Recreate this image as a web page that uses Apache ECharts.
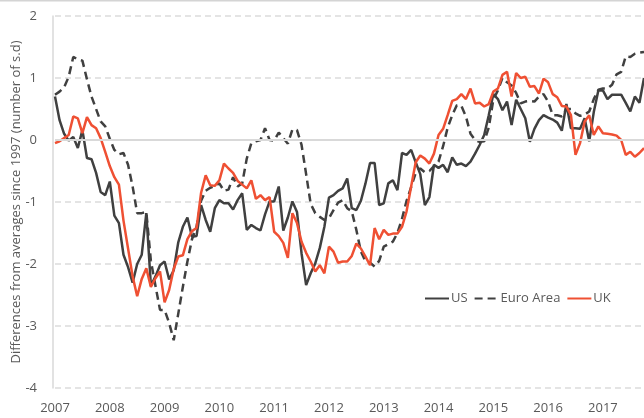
<!DOCTYPE html>
<html>
<head>
<meta charset="utf-8">
<script src="https://cdn.jsdelivr.net/npm/echarts@6/dist/echarts.min.js"></script>
<style>
html,body{margin:0;padding:0;background:#fff;}
#chart{width:644px;height:418px;}
</style>
</head>
<body>
<div id="chart"></div>
<script>
var years = ['2007','2008','2009','2010','2011','2012','2013','2014','2015','2016','2017'];
var monthCount = 130;
var yTicks = [-4, -3, -2, -1, 0, 1, 2];
var seriesNames = ['US', 'Euro Area', 'UK'];

var us = [0.70,0.32,0.10,-0.01,0.05,-0.13,0.16,-0.29,-0.31,-0.53,-0.84,-0.89,
-0.67,-1.22,-1.34,-1.85,-2.05,-2.30,-2.00,-1.85,-1.18,-2.35,-2.20,-2.02,
-1.96,-2.25,-2.10,-1.65,-1.40,-1.25,-1.56,-1.55,-1.05,-1.29,-1.48,-1.10,
-0.97,-1.02,-1.02,-1.12,-0.97,-0.86,-1.45,-1.37,-1.42,-1.46,-1.20,-0.99,
-0.99,-0.75,-1.46,-1.25,-0.99,-1.16,-1.83,-2.34,-2.15,-1.99,-1.74,-1.40,
-0.93,-0.89,-0.82,-0.78,-0.62,-1.10,-1.13,-0.98,-0.70,-0.37,-0.37,-1.05,
-1.02,-0.70,-0.65,-0.81,-0.21,-0.24,-0.16,-0.36,-0.55,-1.05,-0.92,-0.40,
-0.45,-0.40,-0.52,-0.28,-0.40,-0.38,-0.42,-0.35,-0.22,-0.08,0.08,0.40,
0.74,0.66,0.48,0.62,0.24,0.65,0.50,0.35,-0.03,0.18,0.32,0.40,
0.36,0.33,0.28,0.15,0.58,0.19,0.19,0.18,0.35,-0.02,0.45,0.80,
0.80,0.66,0.73,0.73,0.73,0.60,0.46,0.70,0.60,1.00];

var euro = [0.73,0.78,0.85,1.02,1.34,1.30,1.28,0.98,0.70,0.50,0.30,0.22,
0.02,-0.16,-0.23,-0.21,-0.40,-0.75,-1.18,-1.18,-1.16,-1.95,-2.35,-2.74,
-2.74,-2.95,-3.23,-2.80,-2.37,-1.96,-1.60,-1.40,-0.98,-0.82,-0.77,-0.74,
-0.70,-0.82,-0.80,-0.60,-0.75,-0.70,-0.30,-0.05,-0.02,0.00,0.19,0.00,
-0.01,0.12,0.03,-0.06,0.17,0.16,-0.08,-0.55,-1.03,-1.18,-1.24,-1.29,
-1.26,-1.13,-1.01,-0.97,-1.10,-1.15,-1.45,-1.80,-1.96,-1.98,-2.04,-1.95,
-1.72,-1.68,-1.64,-1.50,-1.27,-0.98,-0.76,-0.53,-0.46,-0.52,-0.50,-0.42,
-0.35,-0.10,0.20,0.40,0.56,0.55,0.38,0.10,0.00,-0.03,-0.02,0.20,
0.65,0.80,1.00,0.93,0.88,0.76,0.59,0.62,0.63,0.62,0.70,0.74,
0.62,0.40,0.40,0.38,0.50,0.50,0.43,0.39,0.41,0.46,0.66,0.81,
0.83,0.83,0.89,1.06,1.10,1.35,1.34,1.39,1.41,1.42];

var uk = [-0.05,-0.02,0.03,0.08,0.38,0.35,0.11,0.37,0.24,0.19,0.03,-0.19,
-0.42,-0.60,-0.72,-1.30,-1.75,-2.20,-2.52,-2.24,-2.07,-2.37,-2.23,-2.12,
-2.62,-2.42,-2.08,-1.88,-1.86,-1.60,-1.47,-1.42,-0.85,-0.57,-0.73,-0.74,
-0.65,-0.38,-0.46,-0.53,-0.66,-0.72,-0.78,-0.65,-0.95,-0.89,-0.97,-0.92,
-1.48,-1.55,-1.66,-1.90,-1.18,-1.34,-1.64,-1.82,-1.96,-2.12,-2.02,-2.15,
-1.72,-1.80,-1.98,-1.96,-1.96,-1.87,-1.67,-1.75,-1.88,-2.02,-1.42,-1.60,
-1.45,-1.53,-1.51,-1.51,-1.40,-1.15,-0.75,-0.36,-0.25,-0.30,-0.38,-0.22,
0.08,0.18,0.40,0.63,0.66,0.74,0.66,0.83,0.59,0.60,0.54,0.58,
0.78,0.83,1.05,1.10,0.70,1.08,1.00,1.02,0.86,0.87,0.75,0.99,
0.93,0.74,0.69,0.55,0.54,0.40,-0.24,-0.05,0.30,0.40,0.08,0.22,
0.11,0.10,0.09,0.07,0.00,-0.24,-0.19,-0.27,-0.21,-0.13];

var months = [];
for (var i = 0; i < monthCount; i++) {
  var y = years[Math.floor(i / 12)] || String(2007 + Math.floor(i / 12));
  var m = (i % 12) + 1;
  months.push(y + '-' + (m < 10 ? '0' + m : m));
}

var dark = '#404040';
var red = '#ef5033';
var textColor = '#595959';
var fontFamily = '"Open Sans", "Noto Sans", sans-serif';

var chart = echarts.init(document.getElementById('chart'), null, {renderer: 'canvas'});
chart.setOption({
  animation: false,
  backgroundColor: '#fff',
  textStyle: {fontFamily: fontFamily, color: textColor},
  graphic: [{
    type: 'line', shape: {x1: 0, y1: 0.75, x2: 644, y2: 0.75},
    style: {stroke: '#d4d4d4', lineWidth: 1.5}, silent: true
  }],
  grid: {left: 55, right: 0, top: 16, bottom: 30, containLabel: false, outerBoundsMode: 'none'},
  legend: {
    left: 419, top: 287,
    itemWidth: 24, itemHeight: 14, itemGap: 6,
    itemStyle: {opacity: 0},
    textStyle: {fontFamily: fontFamily, fontSize: 13, color: textColor, padding: [0, 0, 0, -3]},
    data: seriesNames
  },
  xAxis: {
    type: 'category',
    data: months,
    boundaryGap: false,
    axisLine: {show: false},
    axisTick: {show: false},
    splitLine: {show: false},
    axisLabel: {
      interval: 11,
      margin: 14,
      fontSize: 13,
      color: textColor,
      fontFamily: fontFamily,
      formatter: function (v) { return v.slice(0, 4); }
    }
  },
  yAxis: {
    type: 'value',
    min: yTicks[0], max: yTicks[yTicks.length - 1], interval: 1,
    offset: 2,
    name: 'Differences from averages since 1997 (number of s.d)',
    nameLocation: 'middle',
    nameGap: 30,
    nameMoveOverlap: false,
    nameTextStyle: {fontSize: 13, color: textColor, fontFamily: fontFamily},
    axisLine: {show: true, lineStyle: {color: '#d9d9d9', width: 1.5}},
    axisTick: {show: false},
    axisLabel: {margin: 16, fontSize: 13, color: textColor, fontFamily: fontFamily},
    splitLine: {show: true, lineStyle: {color: '#dcdcdc', width: 1.5, type: [6, 4]}}
  },
  series: [
    {
      name: 'zero', type: 'line', data: [], z: 1, silent: true,
      markLine: {
        silent: true, symbol: 'none', label: {show: false},
        lineStyle: {color: '#d9d9d9', width: 2, type: 'solid'},
        data: [{yAxis: 0}]
      }
    },
    {
      name: seriesNames[0], type: 'line', data: us, symbol: 'none', showSymbol: false,
      lineStyle: {color: dark, width: 2.5}, itemStyle: {color: dark}, z: 3
    },
    {
      name: seriesNames[1], type: 'line', data: euro, symbol: 'none', showSymbol: false,
      lineStyle: {color: dark, width: 2.5, type: [8, 5]}, itemStyle: {color: dark}, z: 3
    },
    {
      name: seriesNames[2], type: 'line', data: uk, symbol: 'none', showSymbol: false,
      lineStyle: {color: red, width: 2.5}, itemStyle: {color: red}, z: 4
    }
  ]
});
</script>
</body>
</html>
